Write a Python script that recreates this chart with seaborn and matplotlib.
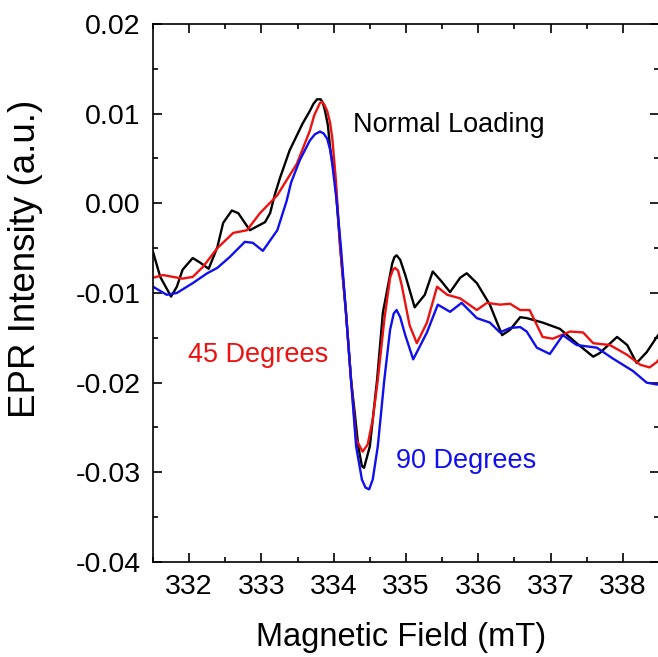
import numpy as np
import pandas as pd
import matplotlib
matplotlib.use("Agg")
import matplotlib.pyplot as plt
import seaborn as sns
from matplotlib.ticker import MultipleLocator

# field values (mT) and intensities
field_normal = [331.50, 331.60, 331.75, 331.83, 331.91, 332.05, 332.15, 332.27, 332.39, 332.47,
                332.59, 332.68, 332.84, 333.05, 333.12, 333.19, 333.26, 333.39, 333.57, 333.67,
                333.72, 333.77, 333.82, 333.85, 333.88, 333.92, 333.95, 334.02, 334.09, 334.17,
                334.24, 334.29, 334.34, 334.39, 334.42, 334.45, 334.50, 334.60, 334.68, 334.81,
                334.84, 334.87, 334.92, 334.99, 335.12, 335.26, 335.37, 335.48, 335.61, 335.75,
                335.84, 335.98, 336.16, 336.33, 336.44, 336.58, 336.67, 336.89, 337.13, 337.36,
                337.59, 337.68, 337.92, 338.06, 338.19, 338.33, 338.47, 338.50]
epr_normal = [-0.0054, -0.0082, -0.0104, -0.0093, -0.0074, -0.0061, -0.0066, -0.0073, -0.0049, -0.0022,
              -0.0008, -0.0011, -0.0030, -0.0021, -0.0011, 0.0011, 0.0029, 0.0059, 0.0089, 0.0103,
              0.0111, 0.0116, 0.0116, 0.0112, 0.0103, 0.0087, 0.0062, 0.0026, -0.0049, -0.0122,
              -0.0197, -0.0233, -0.0271, -0.0293, -0.0295, -0.0286, -0.0271, -0.0197, -0.0122, -0.0067,
              -0.0060, -0.0058, -0.0063, -0.0080, -0.0116, -0.0102, -0.0076, -0.0086, -0.0099, -0.0083,
              -0.0078, -0.0089, -0.0113, -0.0147, -0.0141, -0.0127, -0.0128, -0.0133, -0.0140, -0.0156,
              -0.0171, -0.0167, -0.0149, -0.0158, -0.0178, -0.0166, -0.0149, -0.0146]

field_45 = [331.50, 331.64, 331.91, 332.05, 332.19, 332.39, 332.61, 332.80, 332.98, 333.22,
            333.35, 333.49, 333.67, 333.73, 333.81, 333.84, 333.87, 333.91, 333.95, 333.98,
            334.03, 334.09, 334.17, 334.24, 334.31, 334.40, 334.47, 334.54, 334.61, 334.70,
            334.78, 334.82, 334.85, 334.89, 334.94, 335.05, 335.15, 335.29, 335.43, 335.57,
            335.75, 335.98, 336.12, 336.30, 336.44, 336.58, 336.71, 336.89, 337.03, 337.27,
            337.45, 337.59, 337.82, 338.06, 338.24, 338.37, 338.47, 338.50]
epr_45 = [-0.0083, -0.0080, -0.0084, -0.0082, -0.0071, -0.0050, -0.0033, -0.0030, -0.0011, 0.0009,
          0.0026, 0.0044, 0.0081, 0.0098, 0.0112, 0.0113, 0.0110, 0.0103, 0.0090, 0.0073,
          0.0026, -0.0049, -0.0122, -0.0197, -0.0263, -0.0277, -0.0269, -0.0241, -0.0197, -0.0130,
          -0.0083, -0.0074, -0.0072, -0.0075, -0.0091, -0.0136, -0.0156, -0.0133, -0.0093, -0.0102,
          -0.0106, -0.0119, -0.0111, -0.0113, -0.0112, -0.0119, -0.0119, -0.0149, -0.0151, -0.0143,
          -0.0144, -0.0156, -0.0158, -0.0169, -0.0180, -0.0183, -0.0177, -0.0174]

field_90 = [331.50, 331.69, 331.83, 332.05, 332.25, 332.39, 332.56, 332.77, 332.88, 333.02,
            333.22, 333.35, 333.41, 333.53, 333.67, 333.74, 333.81, 333.86, 333.91, 333.95,
            333.98, 334.04, 334.10, 334.17, 334.24, 334.31, 334.39, 334.44, 334.49, 334.54,
            334.61, 334.70, 334.78, 334.83, 334.87, 334.92, 334.99, 335.10, 335.29, 335.44,
            335.61, 335.77, 335.98, 336.16, 336.30, 336.44, 336.58, 336.67, 336.81, 336.99,
            337.17, 337.36, 337.64, 337.86, 338.14, 338.33, 338.47, 338.50]
epr_90 = [-0.0093, -0.0102, -0.0100, -0.0089, -0.0078, -0.0072, -0.0060, -0.0043, -0.0044, -0.0053,
          -0.0030, 0.0003, 0.0023, 0.0048, 0.0070, 0.0077, 0.0080, 0.0078, 0.0072, 0.0060,
          0.0044, 0.0003, -0.0049, -0.0122, -0.0197, -0.0271, -0.0308, -0.0317, -0.0319, -0.0308,
          -0.0271, -0.0197, -0.0141, -0.0123, -0.0119, -0.0127, -0.0147, -0.0174, -0.0144, -0.0113,
          -0.0121, -0.0111, -0.0128, -0.0133, -0.0144, -0.0139, -0.0138, -0.0143, -0.0161, -0.0168,
          -0.0147, -0.0158, -0.0161, -0.0173, -0.0187, -0.0200, -0.0202, -0.0202]

series = [
    ("Normal Loading", field_normal, epr_normal, "black"),
    ("45 Degrees", field_45, epr_45, "#ee1111"),
    ("90 Degrees", field_90, epr_90, "#1010ee"),
]

sns.set_style("ticks")
plt.rcParams['font.family'] = ['Liberation Sans', 'DejaVu Sans']
plt.rcParams['text.color'] = 'black'
plt.rcParams['axes.labelcolor'] = 'black'
plt.rcParams['xtick.color'] = 'black'
plt.rcParams['ytick.color'] = 'black'

fig = plt.figure(figsize=(6.58, 6.57), dpi=100)
ax = fig.add_axes([0.2325, 0.1446, 0.7690, 0.8189])

for name, x, y, c in series:
    d = pd.DataFrame({"field": x, "epr": y})
    sns.lineplot(data=d, x="field", y="epr", color=c, lw=1.7, estimator=None, sort=False, ax=ax)

ax.set_xlim(331.5, 338.5)
ax.set_ylim(-0.04, 0.02)
ax.xaxis.set_major_locator(MultipleLocator(1))
ax.xaxis.set_minor_locator(MultipleLocator(0.5))
ax.yaxis.set_minor_locator(MultipleLocator(0.005))
ax.set_yticks([0.02, 0.01, 0.0, -0.01, -0.02, -0.03, -0.04])
ax.set_yticklabels(["0.02", "0.01", "0.00", "-0.01", "-0.02", "-0.03", "-0.04"])

ax.tick_params(which="both", direction="in", top=True, right=True, width=1.2, color="black")
ax.tick_params(which="major", length=6.5, labelsize=20.5, pad=9, labelcolor="black")
ax.tick_params(which="minor", length=3.5)
for s in ax.spines.values():
    s.set_linewidth(1.2)
    s.set_color("black")

ax.set_xlabel("Magnetic Field (mT)", fontsize=23.5, color="black")
ax.set_ylabel("EPR Intensity (a.u.)", fontsize=26.5, color="black")
ax.xaxis.set_label_coords(0.49, -0.112)
ax.yaxis.set_label_coords(-0.218, 0.564)

ax.text(334.27, 0.0087, "Normal Loading", color="black", fontsize=19.5, va="center", ha="left")
ax.text(331.99, -0.0169, "45 Degrees", color="#ee1111", fontsize=19.5, va="center", ha="left")
ax.text(334.86, -0.0287, "90 Degrees", color="#1010ee", fontsize=19.5, va="center", ha="left")

fig.savefig("out.png", dpi=100)
